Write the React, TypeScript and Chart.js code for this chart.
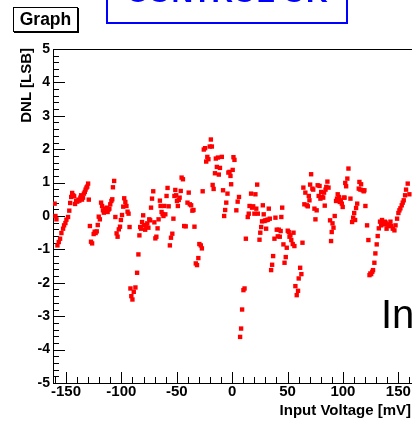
import React, { useEffect, useRef } from 'react';
import { Chart, registerables } from 'chart.js';

Chart.register(...registerables);

// Input voltage [mV] of each measured code transition
const voltage = [
  -160.2, -159.5, -158.6, -157.7, -156.5, -155.3, -154.1, -152.6, -151.7, -150.5,
  -149.6, -148.1, -147.0, -146.2, -145.3, -144.4, -143.5, -142.6, -141.8, -140.8,
  -139.8, -138.8, -137.9, -137.0, -136.3, -135.5, -134.6, -133.8, -133.0, -132.3,
  -131.5, -130.8, -130.0, -129.4,
  -128.4, -127.4, -126.4, -125.0, -124.1, -123.2, -122.2, -121.3, -120.4, -119.4,
  -118.3, -117.4, -116.6, -115.8, -114.9, -114.0, -113.2, -112.4, -111.6, -110.8,
  -110.0, -109.0, -108.2, -107.6, -106.5,
  -105.4, -104.3, -103.4, -102.3, -101.2, -100.4, -99.4, -98.3, -97.4, -96.4,
  -95.4, -94.4, -93.5, -92.6,
  -91.8, -91.0, -90.0, -88.8, -87.3, -85.8, -84.6,
  -83.7, -83.0, -82.2, -81.3, -80.3, -79.6, -78.5, -77.5, -76.6, -75.6,
  -74.8, -74.0, -73.2, -72.3, -71.2, -70.2, -69.3, -68.4, -67.3, -66.4,
  -65.2, -64.6, -63.7, -62.8, -62.0, -61.2, -60.3, -59.2, -58.3, -57.3,
  -56.2, -55.2, -54.0, -53.0, -52.1, -51.3, -50.5, -49.8, -49.0, -48.2,
  -47.4, -46.4, -45.6, -44.4,
  -43.3, -41.9, -40.3, -39.2, -38.2, -37.0, -35.9, -34.9, -34.0,
  -32.8, -31.7, -30.5, -29.6, -28.3, -27.3,
  -26.6, -25.6, -24.4, -23.4, -22.4, -21.4, -20.2, -19.2, -18.3, -17.6,
  -16.7, -15.5, -14.7, -13.8, -12.8, -12.0, -11.0, -9.3, -8.2,
  -7.2, -6.3, -5.3, -4.2, -3.4, -2.4, -1.5, -0.9, 0.5, 1.2, 2.1,
  3.8, 5.0, 6.2,
  7.2, 8.1, 9.0, 10.2, 11.2,
  12.4, 14.1, 15.0, 15.7, 17.1, 18.0, 19.0, 20.1, 21.0, 21.8, 22.6, 23.2,
  24.7, 25.4, 26.2, 27.0, 27.7, 28.5, 29.2, 30.0, 30.7, 31.5, 32.3, 33.1, 34.0,
  35.2, 36.1, 37.0,
  38.2, 39.1, 40.3, 41.2, 42.1, 43.0, 43.8, 44.4, 45.2,
  46.3, 47.3, 48.4, 49.3,
  50.2, 51.1, 51.8, 52.6, 53.4, 54.7, 55.4, 56.2,
  57.1, 58.3, 59.5, 60.1, 61.4, 62.5,
  63.5, 64.3, 65.2, 66.1, 67.4, 68.3, 69.2, 69.8, 70.4, 71.3,
  72.4, 73.2, 74.3, 75.2, 76.3, 77.2, 78.1, 78.9, 79.7, 80.4,
  81.3, 82.2, 83.0, 83.6, 84.3, 85.0, 86.0, 87.0,
  88.4, 89.3, 89.9, 90.6, 91.5, 92.6,
  93.8, 94.7, 95.3, 96.3, 97.2, 98.1, 99.0, 99.8, 100.7, 101.5,
  102.1, 102.9, 104.0, 105.0, 106.8,
  108.3, 109.3, 110.2, 111.0, 111.9, 112.9,
  114.3, 114.9, 115.8, 116.4, 117.9, 118.8, 119.4, 120.3,
  121.8, 123.0,
  124.0, 124.8, 125.5, 126.5, 127.2, 128.4, 129.3, 130.5, 131.4, 132.4,
  133.5, 134.5, 135.3, 136.0, 137.0, 137.8, 138.6, 139.4, 140.1, 140.9,
  142.0, 142.9, 143.6, 145.0, 146.5, 147.5, 148.9, 150.1, 151.0, 151.9,
  153.1, 154.0, 154.9, 156.1, 157.0, 158.5, 160.0,
];

// Differential non-linearity [LSB]
const dnl = [
  0.37, 0.00, -0.10, -0.88, -0.78, -0.68, -0.51, -0.38, -0.28, -0.21,
  -0.11, -0.03, 0.16, 0.39, 0.57, 0.69, 0.62, 0.59, 0.36, 0.45,
  0.43, 0.49, 0.46, 0.55, 0.62, 0.49, 0.55, 0.67, 0.72, 0.79,
  0.85, 0.88, 0.97, 0.49,
  -0.30, -0.77, -0.82, -0.54, -0.47, -0.51, -0.46, -0.27, -0.02, -0.10,
  0.40, 0.30, 0.17, 0.10, 0.22, 0.17, 0.25, 0.12, 0.19, 0.22,
  0.35, 0.45, 0.50, 0.86, 1.05,
  -0.03, -0.52, -0.62, -0.40, -0.32, -0.12, 0.03, 0.28, 0.53, 0.42,
  0.30, 0.13, 0.07, -0.33,
  -2.17, -2.40, -2.50, -2.27, -2.14, -1.70, -1.15,
  -0.58, -0.33, -0.38, -0.18, 0.02, -0.27, -0.41, -0.30, -0.22, -0.35,
  -0.10, -0.13, 0.25, 0.52, 0.74, -0.19, -0.67, -0.62, -0.37, -0.10,
  0.46, 0.30, 0.12, 0.06, 0.00, 0.30, 0.05, 0.60, 0.84, 0.29,
  -0.88, -0.65, -0.53, -0.08, 0.60, 0.78, 0.62, 0.45, 0.30, 0.48,
  0.55, 0.75, 1.15, 1.10,
  -0.30, -0.31, 0.40, 0.70, 0.35, 0.32, 0.16, 0.18, -0.32,
  -1.42, -1.47, -1.26, -0.84, -0.88, -0.97,
  0.74, 1.99, 2.03, 1.63, 1.77, 1.70, 2.08, 2.29, 2.08, 0.93,
  0.81, 1.28, 1.72, 1.47, 1.75, 1.24, 1.44, 1.77, 0.77,
  0.00, 0.18, 0.40, 0.67, 1.30, 1.32, 1.20, 0.95, 1.38, 1.76, 1.68,
  0.17, 0.43, 0.57,
  -3.62, -3.37, -2.80, -2.22, -2.17,
  -0.68, -0.03, 0.07, 0.30, 0.67, 0.25, 0.29, 0.07, 0.65, 0.22, 0.94, 0.07,
  -0.71, -0.50, -0.33, -0.16, 0.32, 0.05, -0.15, -0.13, -0.38, -0.12, -0.11, 0.22, -0.08,
  -1.62, -1.46, -1.20,
  -0.68, -0.05, -0.41, -0.61, -0.41, -0.62, -0.45, -0.03, 0.25,
  -0.85, -1.40, -1.23, -0.95,
  -0.44, -0.48, -0.62, -0.58, -0.72, -0.84, -0.50, -0.90,
  -2.10, -2.37, -2.24, -1.87, -1.55, -1.74,
  -0.80, 0.85, 0.35, 0.70, 0.32, 0.29, 0.60, 0.47, 0.94, 1.25,
  0.82, 0.79, 0.22, -0.10, 0.17, 0.92, 0.60, 0.90, 0.52, 0.72,
  0.57, 0.55, 0.70, 0.31, 0.79, 0.87, 1.03, 0.85,
  -0.13, -0.75, -0.48, -0.22, -0.35, 0.00,
  0.45, 0.52, 0.65, 0.57, 0.42, 0.47, 0.37, 0.27, 0.55, 0.55,
  0.99, 0.89, 1.12, 1.42, 0.52,
  -0.18, -0.05, 0.09, -0.12, 0.24, 0.37,
  0.82, 1.02, 0.79, 0.95, 0.77, 0.74, 0.77, 0.30,
  -0.28, -0.72,
  -1.77, -1.72, -1.74, -1.67, -1.62, -1.40, -1.12, -0.85, -0.60, -0.37,
  -0.17, -0.28, -0.12, -0.20, -0.25, -0.17, -0.20, -0.38, -0.25, -0.30,
  -0.28, -0.17, -0.30, -0.38, -0.43, -0.28, -0.08, 0.09, 0.17, 0.23,
  0.32, 0.40, 0.47, 0.62, 0.79, 0.97, 0.65,
];

const xTickValues = [-150, -100, -50, 0, 50, 100, 150];
const yTickValues = [-5, -4, -3, -2, -1, 0, 1, 2, 3, 4, 5];
const xMin = -161.7;
const xMax = 175;
const yMin = -5;
const yMax = 5;
const xMinorStep = 10;
const yMinorStep = 0.2;

const FONT = '"Liberation Sans", Arial, Helvetica, sans-serif';

const frameAndTicks = {
  id: 'frameAndTicks',
  beforeDatasetsDraw(chart: any) {
    const { ctx, chartArea: a, scales } = chart;
    const xs = scales.x;
    const ys = scales.y;
    ctx.save();
    ctx.strokeStyle = '#000';
    ctx.lineWidth = 1;
    ctx.beginPath();
    const nY = Math.round((yMax - yMin) / yMinorStep);
    for (let i = 0; i <= nY; i++) {
      const v = yMin + i * yMinorStep;
      const py = Math.round(ys.getPixelForValue(v)) + 0.5;
      const len = i % 5 === 0 ? 12 : 6;
      ctx.moveTo(a.left, py);
      ctx.lineTo(a.left + len, py);
    }
    for (let v = -160; v <= xMax; v += xMinorStep) {
      const px = Math.round(xs.getPixelForValue(v)) + 0.5;
      const len = v % 50 === 0 ? 11 : 6;
      ctx.moveTo(px, a.bottom);
      ctx.lineTo(px, a.bottom - len);
    }
    ctx.stroke();
    ctx.strokeRect(
      Math.round(a.left) + 0.5,
      Math.round(a.top) + 0.5,
      Math.round(a.right - a.left),
      Math.round(a.bottom - a.top)
    );
    ctx.restore();
  },
};

function DnlChart() {
  const ref = useRef<HTMLCanvasElement | null>(null);
  useEffect(() => {
    if (!ref.current) return;
    const chart = new Chart(ref.current, {
      type: 'scatter',
      data: {
        datasets: [
          {
            label: 'DNL',
            data: voltage.map((v, i) => ({ x: v, y: dnl[i] })),
            pointStyle: 'rect',
            pointRadius: 3.1,
            pointBorderWidth: 0,
            pointBackgroundColor: '#ff0000',
            backgroundColor: '#ff0000',
            borderColor: '#ff0000',
            showLine: false,
          },
        ],
      },
      options: {
        responsive: false,
        animation: false,
        events: [],
        layout: { padding: { left: 0, top: 49, right: 14, bottom: 0 } },
        plugins: {
          legend: { display: false },
          tooltip: { enabled: false },
          title: { display: false },
        },
        scales: {
          x: {
            type: 'linear',
            min: xMin,
            max: xMax,
            grid: { display: false, drawTicks: false },
            border: { display: false },
            afterBuildTicks: (s: any) => {
              s.ticks = xTickValues.map((v) => ({ value: v }));
            },
            afterFit: (s: any) => {
              s.height = 38;
            },
            ticks: {
              autoSkip: false,
              maxRotation: 0,
              minRotation: 0,
              padding: 0,
              color: '#000',
              font: { family: FONT, weight: 'bold', size: 15 },
              callback: (v: any) => String(v),
            },
          },
          y: {
            type: 'linear',
            min: yMin,
            max: yMax,
            grid: { display: false, drawTicks: false },
            border: { display: false },
            afterBuildTicks: (s: any) => {
              s.ticks = yTickValues.map((v) => ({ value: v }));
            },
            afterFit: (s: any) => {
              s.width = 53;
            },
            ticks: {
              autoSkip: false,
              padding: 3,
              color: '#000',
              font: { family: FONT, weight: 'bold', size: 14 },
              callback: (v: any) => String(v),
            },
          },
        },
      } as any,
      plugins: [frameAndTicks],
    });
    return () => chart.destroy();
  }, []);
  return (
    <canvas
      ref={ref}
      width={440}
      height={421}
      style={{ position: 'absolute', left: 0, top: 0, width: 440, height: 421 }}
    />
  );
}

export default function App() {
  return (
    <div
      style={{
        position: 'fixed',
        left: 0,
        top: 0,
        width: 412,
        height: 421,
        overflow: 'hidden',
        background: '#fff',
        fontFamily: FONT,
      }}
    >
      <DnlChart />
      {/* "Graph" title pave */}
      <div
        style={{
          position: 'absolute',
          left: 13,
          top: 7,
          width: 63,
          height: 23,
          border: '1px solid #000',
          boxShadow: '1px 1px 0 #000',
          background: '#fff',
          display: 'flex',
          alignItems: 'center',
          justifyContent: 'center',
          fontWeight: 'bold',
          fontSize: 17.5,
          lineHeight: '23px',
          color: '#000',
          boxSizing: 'content-box',
        }}
      >
        Graph
      </div>
      {/* blue label box, cut at top */}
      <div
        style={{
          position: 'absolute',
          left: 106,
          top: -40,
          width: 238,
          height: 60,
          border: '2px solid #0000ff',
          background: '#fff',
          overflow: 'hidden',
        }}
      >
        <div
          style={{
            position: 'absolute',
            left: 0,
            right: 0,
            top: 15,
            textAlign: 'center',
            color: '#0000ff',
            fontWeight: 'bold',
            fontSize: 30,
            lineHeight: '30px',
            whiteSpace: 'nowrap',
          }}
        >
          CONTROL OK
        </div>
      </div>
      {/* large annotation at right edge */}
      <div
        style={{
          position: 'absolute',
          left: 381,
          top: 294,
          fontSize: 40,
          lineHeight: '40px',
          color: '#000',
          whiteSpace: 'nowrap',
        }}
      >
        In
      </div>
      {/* y axis title */}
      <div
        style={{
          position: 'absolute',
          left: 18,
          top: 148,
          width: 100,
          height: 15,
          transform: 'rotate(-90deg)',
          transformOrigin: 'left top',
          textAlign: 'right',
          fontWeight: 'bold',
          fontSize: 15,
          lineHeight: '15px',
          whiteSpace: 'nowrap',
          color: '#000',
        }}
      >
        DNL [LSB]
      </div>
      {/* x axis title */}
      <div
        style={{
          position: 'absolute',
          left: 211,
          top: 402,
          width: 200,
          textAlign: 'right',
          fontWeight: 'bold',
          fontSize: 15,
          lineHeight: '15px',
          whiteSpace: 'nowrap',
          color: '#000',
        }}
      >
        Input Voltage [mV]
      </div>
    </div>
  );
}
